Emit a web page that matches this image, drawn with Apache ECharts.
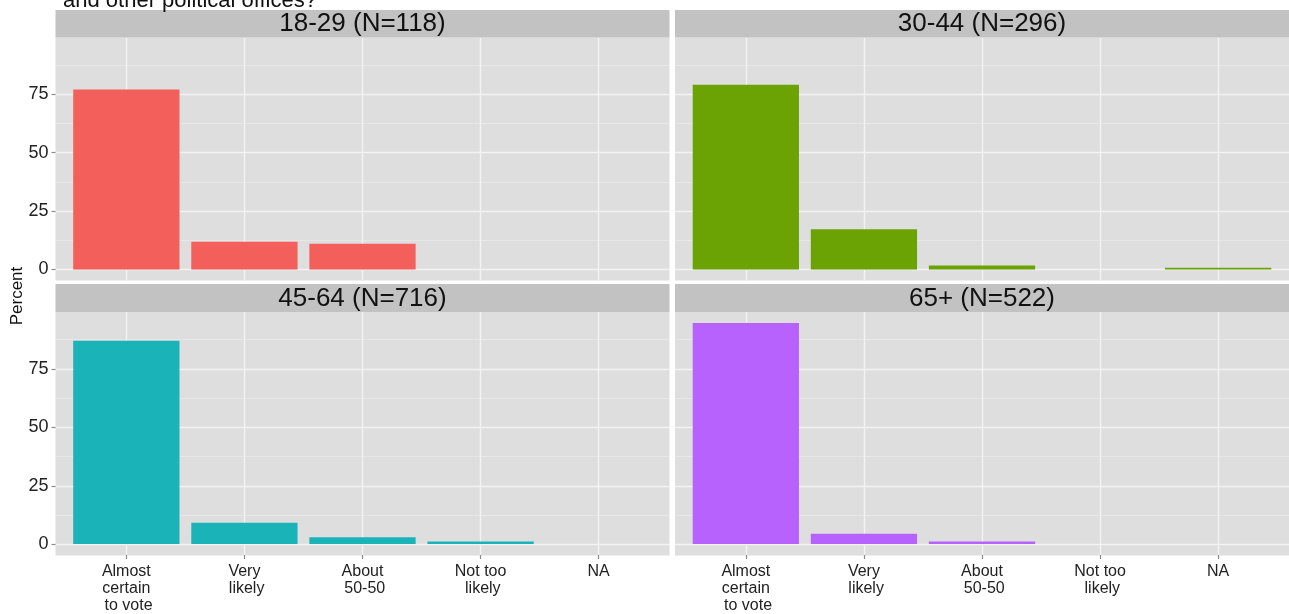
<!DOCTYPE html>
<html><head><meta charset="utf-8">
<script src="https://cdn.jsdelivr.net/npm/echarts@6/dist/echarts.min.js"></script>
<style>html,body{margin:0;padding:0;background:#fff}#c{width:1289px;height:614px}</style>
</head><body><div id="c"></div>
<script>
// ---- data ----
const categories = ['Almost\ncertain\n to vote', 'Very\n likely', 'About\n 50-50', 'Not too\n likely', 'NA'];
const panelTitles = ['18-29 (N=118)', '30-44 (N=296)', '45-64 (N=716)', '65+ (N=522)'];
const pct18to29 = [77.1, 11.9, 11.0, 0, 0];
const pct30to44 = [79.1, 17.2, 1.7, 0, 0.7];
const pct45to64 = [87.0, 9.1, 2.9, 1.0, 0];
const pct65plus = [94.6, 4.4, 1.0, 0, 0];
const yTicks = [0, 25, 50, 75];
const titleText = 'and other political offices?';
const yAxisTitle = 'Percent';

// ---- styling / layout ----
const panelData = [pct18to29, pct30to44, pct45to64, pct65plus];
const colors = ['#F35F5B', '#6BA304', '#19B3B8', '#B862FE'];
const FONT = '"Liberation Sans", Arial, Helvetica, sans-serif';
const PANEL_BG = '#DEDEDE', STRIP_BG = '#C2C2C2', MAJOR = '#F3F3F3', MINOR = '#E8E8E8';
const W = 614;
const colX = [55.5, 675];
const rowsL = [{top: 37.5, bottom: 280.5, stripTop: 10}, {top: 312, bottom: 555.5, stripTop: 284}];

const all = [].concat(...panelData);
const dataMax = Math.max(...all);
const yMax = dataMax * 1.05, yMin = -dataMax * 0.05;

const grids = [], xAxes = [], yAxes = [], series = [], graphics = [];

graphics.push({type: 'text', z: 10, style: {text: titleText, x: 63, y: 0.5, font: '22px ' + FONT, fill: '#111', align: 'left', verticalAlign: 'middle'}});
graphics.push({type: 'text', z: 10, rotation: Math.PI / 2, x: 17, y: 296, style: {text: yAxisTitle, x: 0, y: 0, font: '17px ' + FONT, fill: '#111', align: 'center', verticalAlign: 'middle'}});

for (let p = 0; p < 4; p++) {
  const c = p % 2, r = Math.floor(p / 2);
  const x0 = colX[c], L = rowsL[r];
  const panelH = L.bottom - L.top;
  const k = panelH / (yMax - yMin);
  const unit = W / 5.2;

  graphics.push({type: 'rect', z: -10, shape: {x: x0, y: L.top, width: W, height: panelH}, style: {fill: PANEL_BG}});
  graphics.push({type: 'rect', z: 5, shape: {x: x0, y: L.stripTop, width: W, height: L.top - L.stripTop}, style: {fill: STRIP_BG}});
  graphics.push({type: 'text', z: 6, style: {text: panelTitles[p], x: x0 + W / 2, y: (L.stripTop + L.top) / 2 + 0.5, font: '26px ' + FONT, fill: '#111', align: 'center', verticalAlign: 'middle'}});

  // grid for y gridlines & labels (from 0 to yMax)
  grids.push({left: x0, top: L.top, width: W, height: yMax * k, containLabel: false});
  // grid for bars (full panel height, inset for discrete expansion)
  grids.push({left: x0 + 0.1 * unit, top: L.top, width: W - 0.2 * unit, height: panelH, containLabel: false});

  xAxes.push({gridIndex: 2 * p, type: 'category', data: categories, show: false});
  xAxes.push({
    gridIndex: 2 * p + 1, type: 'category', data: categories, boundaryGap: true,
    axisLine: {show: false, onZero: false},
    axisTick: {show: r === 1, interval: 0, alignWithLabel: true, length: 4, lineStyle: {color: '#8a8a8a', width: 1.2}},
    axisLabel: {show: r === 1, interval: 0, margin: 8, color: '#222', fontSize: 16, lineHeight: 17, fontFamily: FONT, align: 'center'},
    splitLine: {show: true, interval: 0, alignWithLabel: true, lineStyle: {color: MAJOR, width: 1.3}}
  });

  yAxes.push({
    gridIndex: 2 * p, type: 'value', min: 0, max: yMax, interval: 25,
    axisLine: {show: false},
    axisTick: {show: c === 0, length: 4, customValues: yTicks, lineStyle: {color: '#8a8a8a', width: 1.2}},
    axisLabel: {show: c === 0, customValues: yTicks, margin: 7, color: '#222', fontSize: 18, fontFamily: FONT,
      formatter: v => (yTicks.indexOf(Math.round(v * 100) / 100) >= 0 ? String(v) : '')},
    splitLine: {show: true, lineStyle: {color: MAJOR, width: 1.3}},
    minorTick: {show: false, splitNumber: 2},
    minorSplitLine: {show: true, lineStyle: {color: MINOR, width: 0.9}}
  });
  yAxes.push({gridIndex: 2 * p + 1, type: 'value', min: yMin, max: yMax, show: false, splitLine: {show: false}});

  series.push({
    type: 'bar', name: panelTitles[p], xAxisIndex: 2 * p + 1, yAxisIndex: 2 * p + 1,
    data: panelData[p], barWidth: '90%', silent: true,
    itemStyle: {color: colors[p]}
  });
}

const chart = echarts.init(document.getElementById('c'), null, {renderer: 'canvas'});
chart.setOption({
  backgroundColor: '#ffffff',
  animation: false,
  grid: grids, xAxis: xAxes, yAxis: yAxes, series: series,
  graphic: {elements: graphics}
});
</script>
</body></html>
